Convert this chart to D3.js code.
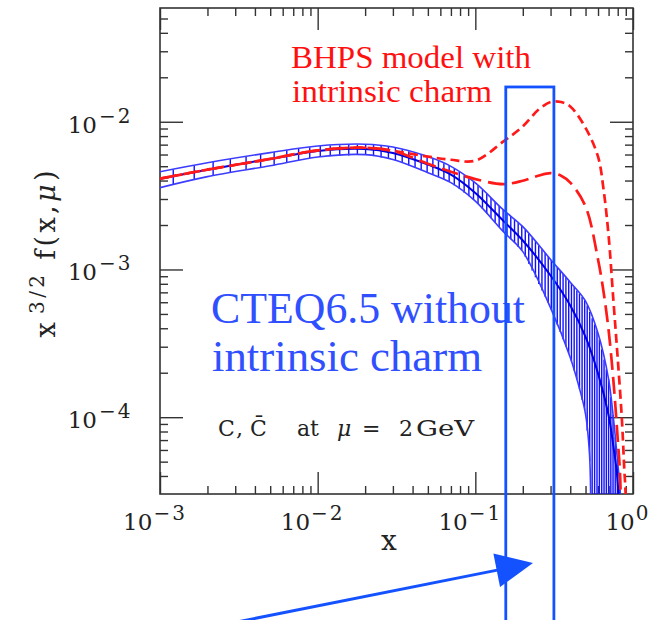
<!DOCTYPE html>
<html><head><meta charset="utf-8">
<script src="https://cdn.jsdelivr.net/npm/d3@7"></script>
<style>body{margin:0;background:#fff}svg{display:block}</style>
</head><body>
<svg id="chart" width="665" height="620"></svg>
<script>
// ---------------- data ----------------
const cteqX       = [0.001, 0.002, 0.005, 0.01, 0.02, 0.03, 0.05, 0.07, 0.1, 0.15, 0.2, 0.3, 0.4, 0.5, 0.6, 0.7, 0.75, 0.8, 0.83];
const cteqCentral = [4.12e-3, 4.74e-3, 5.60e-3, 6.35e-3, 6.55e-3, 6.15e-3, 5.13e-3, 4.39e-3, 3.3e-3, 2.14e-3, 1.57e-3, 9.1e-4, 5.7e-4, 3.5e-4, 1.98e-4, 1.03e-4, 6.4e-5, 3.6e-5, 1e-6];
const cteqUpperX  = [0.001, 0.002, 0.005, 0.01, 0.02, 0.03, 0.05, 0.07, 0.1, 0.15, 0.2, 0.3, 0.4, 0.5, 0.6, 0.7, 0.75, 0.8, 0.83, 0.86];
const cteqUpper   = [4.59e-3, 5.28e-3, 6.18e-3, 6.85e-3, 7.05e-3, 6.75e-3, 5.81e-3, 4.99e-3, 3.85e-3, 2.54e-3, 1.95e-3, 1.17e-3, 8.2e-4, 6.1e-4, 3.7e-4, 1.81e-4, 1.0e-4, 4.9e-5, 3.1e-5, 1e-6];
const cteqLowerX  = [0.001, 0.002, 0.005, 0.01, 0.02, 0.03, 0.05, 0.07, 0.1, 0.15, 0.2, 0.3, 0.4, 0.45, 0.5, 0.53, 0.54, 0.55];
const cteqLower   = [3.58e-3, 4.25e-3, 5.04e-3, 5.78e-3, 5.99e-3, 5.55e-3, 4.52e-3, 3.87e-3, 2.9e-3, 1.81e-3, 1.32e-3, 5.5e-4, 2.54e-4, 1.67e-4, 1.05e-4, 5.6e-5, 2.5e-5, 1e-6];
const bhpsHighX   = [0.001, 0.002, 0.005, 0.01, 0.02, 0.03, 0.05, 0.07, 0.1, 0.15, 0.2, 0.25, 0.3, 0.35, 0.4, 0.5, 0.6, 0.65, 0.7, 0.75, 0.8, 0.85, 0.88, 0.9, 0.92];
const bhpsHigh    = [4.12e-3, 4.74e-3, 5.60e-3, 6.40e-3, 6.67e-3, 6.35e-3, 5.81e-3, 5.53e-3, 5.45e-3, 7.33e-3, 9.3e-3, 1.2e-2, 1.36e-2, 1.36e-2, 1.27e-2, 9.1e-3, 5.8e-3, 3.5e-3, 1.7e-3, 6.3e-4, 2.5e-4, 9.7e-5, 4.5e-5, 2.8e-5, 1e-6];
const bhpsLowX    = [0.001, 0.002, 0.005, 0.01, 0.02, 0.03, 0.05, 0.07, 0.1, 0.15, 0.2, 0.25, 0.3, 0.35, 0.4, 0.5, 0.6, 0.65, 0.7, 0.75, 0.8, 0.83, 0.86];
const bhpsLow     = [4.12e-3, 4.74e-3, 5.60e-3, 6.40e-3, 6.67e-3, 6.35e-3, 5.2e-3, 4.59e-3, 4.09e-3, 3.78e-3, 3.99e-3, 4.31e-3, 4.49e-3, 4.31e-3, 3.87e-3, 2.67e-3, 1.17e-3, 7.1e-4, 3.9e-4, 1.8e-4, 7.1e-5, 3.8e-5, 1e-6];

const xMajorTicks    = [1e-3, 1e-2, 1e-1, 1];
const xTickExponents = ["\u22123", "\u22122", "\u22121", "0"];
const yMajorTicks    = [1e-4, 1e-3, 1e-2];
const yTickExponents = ["\u22124", "\u22123", "\u22122"];
const highlightX     = [0.156, 0.315];
const highlightTopY  = 0.0172;

// ---------------- layout ----------------
const W = 665, H = 620;
const L = 160, R = 633, T = 8, B = 494;
const svg = d3.select("#chart");
const x = d3.scaleLog().domain([1e-3, 1]).range([L, R]);
const y = d3.scaleLog().domain([3.02e-5, 0.0589]).range([B, T]);

svg.append("defs").append("clipPath").attr("id", "plotClip")
  .append("rect").attr("x", L).attr("y", T).attr("width", R - L).attr("height", B - T);

const axisColor = "#333";
const FONT = "'DejaVu Serif', serif";

// ---------------- axes (inward ticks on all four sides) ----------------
const isMajor = v => Math.abs(Math.log10(v) - Math.round(Math.log10(v))) < 1e-6;
const xMinor = x.ticks().filter(v => !isMajor(v));
const yMinor = y.ticks().filter(v => !isMajor(v));

function styleAxis(g) {
  g.select(".domain").remove();
  g.selectAll(".tick line").attr("stroke", axisColor).attr("stroke-width", 1.4);
  g.selectAll(".tick text").remove();
}
svg.append("g").attr("transform", `translate(0,${B})`).call(d3.axisBottom(x).tickValues(xMajorTicks).tickSize(-22).tickFormat("")).call(styleAxis);
svg.append("g").attr("transform", `translate(0,${B})`).call(d3.axisBottom(x).tickValues(xMinor).tickSize(-8).tickFormat("")).call(styleAxis);
svg.append("g").attr("transform", `translate(0,${T})`).call(d3.axisTop(x).tickValues(xMajorTicks).tickSize(-22).tickFormat("")).call(styleAxis);
svg.append("g").attr("transform", `translate(0,${T})`).call(d3.axisTop(x).tickValues(xMinor).tickSize(-8).tickFormat("")).call(styleAxis);
svg.append("g").attr("transform", `translate(${L},0)`).call(d3.axisLeft(y).tickValues(yMajorTicks).tickSize(-23).tickFormat("")).call(styleAxis);
svg.append("g").attr("transform", `translate(${L},0)`).call(d3.axisLeft(y).tickValues(yMinor).tickSize(-8).tickFormat("")).call(styleAxis);
svg.append("g").attr("transform", `translate(${R},0)`).call(d3.axisRight(y).tickValues(yMajorTicks).tickSize(-23).tickFormat("")).call(styleAxis);
svg.append("g").attr("transform", `translate(${R},0)`).call(d3.axisRight(y).tickValues(yMinor).tickSize(-8).tickFormat("")).call(styleAxis);

svg.append("rect").attr("x", L).attr("y", T).attr("width", R - L).attr("height", B - T)
  .attr("fill", "none").attr("stroke", axisColor).attr("stroke-width", 1.6);

// tick labels 10^n
xMajorTicks.forEach((v, i) => {
  const t = svg.append("text").attr("x", x(v) - 5).attr("y", B + 36)
    .attr("text-anchor", "middle").attr("font-family", FONT).attr("fill", "#222");
  t.append("tspan").attr("font-size", 23).text("10");
  t.append("tspan").attr("font-size", 20).attr("dy", -10).attr("dx", 1).attr("letter-spacing", 2).text(xTickExponents[i]);
});
yMajorTicks.forEach((v, i) => {
  svg.append("text").attr("x", 97).attr("y", y(v) + 11).attr("text-anchor", "end")
    .attr("font-family", FONT).attr("font-size", 23).attr("fill", "#222").text("10");
  svg.append("text").attr("x", 99).attr("y", y(v) + 1).attr("text-anchor", "start")
    .attr("font-family", FONT).attr("font-size", 20).attr("letter-spacing", 2).attr("fill", "#222").text(yTickExponents[i]);
});

// axis titles
svg.append("text").attr("x", 389).attr("y", 550).attr("text-anchor", "middle")
  .attr("font-family", FONT).attr("font-size", 28).attr("fill", "#222").text("x");
const yt = svg.append("text").attr("transform", "translate(55,254) rotate(-90)")
  .attr("text-anchor", "middle").attr("font-family", FONT).attr("fill", "#222")
  .attr("textLength", 167).attr("lengthAdjust", "spacing");
yt.append("tspan").attr("font-size", 27).text("x");
yt.append("tspan").attr("font-size", 20).attr("dy", -11).attr("dx", 5).text("3/2");
yt.append("tspan").attr("font-size", 27).attr("dy", 11).text(" f(x,");
yt.append("tspan").attr("font-size", 27).attr("font-style", "italic").text("\u03bc");
yt.append("tspan").attr("font-size", 27).text(")");

// ---------------- curves ----------------
const plot = svg.append("g").attr("clip-path", "url(#plotClip)");
const pts = (xs, ys) => xs.map((v, i) => [v, ys[i]]);
const line = d3.line().x(d => x(d[0])).y(d => y(d[1])).curve(d3.curveCatmullRom.alpha(0.5));

// log-log interpolation used only to place the band's hatch strokes
function interp(xs, ys, xv) {
  if (xv <= xs[0]) return ys[0];
  for (let i = 1; i < xs.length; i++) {
    if (xv <= xs[i]) {
      const t = (Math.log(xv) - Math.log(xs[i - 1])) / (Math.log(xs[i]) - Math.log(xs[i - 1]));
      return Math.exp(Math.log(ys[i - 1]) + t * (Math.log(ys[i]) - Math.log(ys[i - 1])));
    }
  }
  return ys[ys.length - 1];
}
const P = 0.36;
const hatchX = [];
for (let u = Math.pow(1e-3, P) + 0.006; Math.pow(u, 1 / P) < 0.86; u += 0.0104) hatchX.push(Math.pow(u, 1 / P));
plot.append("g").selectAll("line").data(hatchX).join("line")
  .attr("x1", d => x(d)).attr("x2", d => x(d))
  .attr("y1", d => y(interp(cteqLowerX, cteqLower, d)))
  .attr("y2", d => y(interp(cteqUpperX, cteqUpper, d)))
  .attr("stroke", "#1010ff").attr("stroke-width", 1.4);

plot.append("path").datum(pts(cteqUpperX, cteqUpper)).attr("d", line)
  .attr("fill", "none").attr("stroke", "#3c3cff").attr("stroke-width", 1.6);
plot.append("path").datum(pts(cteqLowerX, cteqLower)).attr("d", line)
  .attr("fill", "none").attr("stroke", "#3c3cff").attr("stroke-width", 1.6);
plot.append("path").datum(pts(cteqX, cteqCentral)).attr("d", line)
  .attr("fill", "none").attr("stroke", "#0000e0").attr("stroke-width", 2);

plot.append("path").datum(pts(bhpsLowX, bhpsLow)).attr("d", line)
  .attr("fill", "none").attr("stroke", "#ff1a1a").attr("stroke-width", 2.7).attr("stroke-dasharray", "17,7");
plot.append("path").datum(pts(bhpsHighX, bhpsHigh)).attr("d", line)
  .attr("fill", "none").attr("stroke", "#ff1a1a").attr("stroke-width", 2.7).attr("stroke-dasharray", "9,5");

// ---------------- annotations ----------------
const red = "#ff1010", blueTxt = "#3050ff", blueBox = "#1452ff";
svg.append("text").attr("x", 291).attr("y", 68).attr("font-family", "'Liberation Serif', serif")
  .attr("font-size", 31).attr("fill", red).attr("textLength", 240).attr("lengthAdjust", "spacingAndGlyphs").text("BHPS model with");
svg.append("text").attr("x", 292).attr("y", 102).attr("font-family", "'Liberation Serif', serif")
  .attr("font-size", 31).attr("fill", red).attr("textLength", 200).attr("lengthAdjust", "spacingAndGlyphs").text("intrinsic charm");
svg.append("text").attr("x", 211).attr("y", 323).attr("font-family", "'Liberation Serif', serif")
  .attr("font-size", 44).attr("fill", blueTxt).attr("textLength", 314).attr("lengthAdjust", "spacingAndGlyphs").text("CTEQ6.5 without");
svg.append("text").attr("x", 212).attr("y", 371).attr("font-family", "'Liberation Serif', serif")
  .attr("font-size", 44).attr("fill", blueTxt).attr("textLength", 270).attr("lengthAdjust", "spacingAndGlyphs").text("intrinsic charm");

// "C, C̄  at μ = 2 GeV"
const ct = svg.append("text").attr("y", 436).attr("font-family", FONT)
  .attr("font-size", 22).attr("fill", "#222");
ct.append("tspan").attr("x", 218).text("C");
ct.append("tspan").attr("x", 236).text(",");
ct.append("tspan").attr("x", 250).text("C\u0304");
ct.append("tspan").attr("x", 297).text("at");
ct.append("tspan").attr("x", 337).attr("font-style", "italic").text("\u03bc");
ct.append("tspan").attr("x", 362).text("=");
ct.append("tspan").attr("x", 399).text("2");
ct.append("tspan").attr("x", 416).attr("textLength", 58).attr("lengthAdjust", "spacingAndGlyphs").text("GeV");

// highlight box
svg.append("rect").attr("x", x(highlightX[0])).attr("y", y(highlightTopY))
  .attr("width", x(highlightX[1]) - x(highlightX[0])).attr("height", H + 20 - y(highlightTopY))
  .attr("fill", "none").attr("stroke", blueBox).attr("stroke-width", 2.8);

// arrow
const S = [232, 623], Tp = [533, 563];
const dx = Tp[0] - S[0], dy = Tp[1] - S[1], len = Math.hypot(dx, dy);
const ux = dx / len, uy = dy / len, px = -uy, py = ux;
const hl = 37, hw = 17;
svg.append("line").attr("x1", S[0]).attr("y1", S[1]).attr("x2", Tp[0] - ux * 30).attr("y2", Tp[1] - uy * 30)
  .attr("stroke", blueBox).attr("stroke-width", 3);
svg.append("polygon").attr("fill", blueBox).attr("points", [
  [Tp[0], Tp[1]],
  [Tp[0] - ux * hl + px * hw, Tp[1] - uy * hl + py * hw],
  [Tp[0] - ux * hl - px * hw, Tp[1] - uy * hl - py * hw]
].map(p => p.join(",")).join(" "));
</script>
</body></html>
